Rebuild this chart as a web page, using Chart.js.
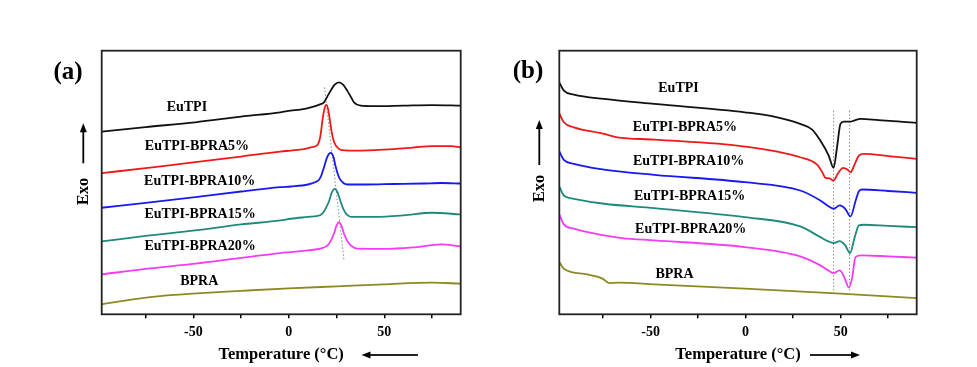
<!DOCTYPE html>
<html>
<head>
<meta charset="utf-8">
<title>DSC curves</title>
<script src="https://cdn.jsdelivr.net/npm/chart.js@4/dist/chart.umd.min.js"></script>
<style>
  body { margin: 0; background: #fff; }
  #wrap { position: relative; width: 977px; height: 367px; }
  .pane { position: absolute; top: 0; height: 367px; }
</style>
</head>
<body>
<div id="wrap">
  <div class="pane" style="left:0;width:488px"><canvas id="chartA"></canvas></div>
  <div class="pane" style="left:488px;width:489px"><canvas id="chartB"></canvas></div>
</div>
<script>
// temperature in °C, heat flow in arbitrary units (exo up, curves stacked)
var seriesNames = ["EuTPI", "EuTPI-BPRA5%", "EuTPI-BPRA10%", "EuTPI-BPRA15%", "EuTPI-BPRA20%", "BPRA"];
var tickValues = [-75, -50, -25, 0, 25, 50, 75];
var tickLabels = [-50, 0, 50];

// (a) cooling scan
var coolT_EuTPI = [-98, -75, -49, -25, -4.4, 1, 6, 12, 16, 18.4, 20, 21.9, 24, 26.2, 28.4, 30.6, 32.4, 34.1, 37.6, 45, 60, 75, 90];
var cool_EuTPI = [18.3, 18.75, 19.23, 19.8, 20.23, 20.4, 20.5, 20.75, 21.0, 21.23, 21.75, 22.4, 23.0, 23.23, 23.0, 22.4, 21.8, 21.23, 20.9, 20.85, 20.9, 20.95, 20.9];
var coolT_5 = [-98, -75, -49, -25, -4.4, 1, 8, 12, 14.9, 16, 16.8, 17.5, 18.5, 19.6, 20.6, 21.5, 22.5, 23.6, 25, 27.1, 32, 45, 55, 65, 75, 85, 90];
var cool_5 = [14.13, 14.65, 15.23, 15.8, 16.3, 16.4, 16.55, 16.75, 16.95, 17.4, 18.2, 19.3, 20.45, 20.97, 20.5, 19.45, 18.2, 17.3, 16.8, 16.47, 16.4, 16.45, 16.55, 16.7, 16.85, 16.85, 16.73];
var coolT_10 = [-98, -75, -49, -25, -4.4, 1, 10, 14, 15.7, 17, 18.4, 20.2, 21.9, 23.3, 24.5, 25.8, 27.1, 30.6, 40, 55, 70, 80, 90];
var cool_10 = [10.67, 11.15, 11.73, 12.3, 12.73, 12.8, 13.0, 13.25, 13.45, 13.9, 14.73, 15.8, 16.17, 15.8, 14.8, 13.95, 13.45, 13.0, 13.0, 13.05, 13.1, 13.15, 13.1];
var coolT_15 = [-98, -75, -49, -25, -4.4, 1, 10, 15, 17, 18.4, 21, 22.5, 24, 25.5, 27.1, 28.4, 29.7, 33, 45, 60, 75, 90];
var cool_15 = [7.3, 7.85, 8.4, 9.0, 9.4, 9.57, 9.75, 9.85, 10.0, 10.3, 11.3, 12.2, 12.57, 12.2, 11.3, 10.6, 10.15, 9.75, 9.75, 9.9, 10.17, 10.0];
var coolT_20 = [-98, -75, -49, -25, -4.4, 1, 10, 17, 20, 21.5, 23.6, 25, 26.2, 27.5, 28.9, 30.6, 32.4, 36, 50, 65, 80, 90];
var cool_20 = [4.0, 4.55, 5.07, 5.65, 6.13, 6.23, 6.4, 6.6, 6.85, 7.2, 8.07, 8.9, 9.23, 8.9, 8.07, 7.35, 6.9, 6.57, 6.55, 6.7, 7.0, 6.8];
var coolT_BPRA = [-98, -85, -72.6, -60, -46, -25, 0, 25, 50, 75, 90];
var cool_BPRA = [1.0, 1.4, 1.73, 1.95, 2.13, 2.35, 2.6, 2.8, 3.0, 3.17, 3.07];
var coolGuideT = [18.7, 28.9];
var coolGuide = [22.73, 5.4];

// (b) heating scan
var heatT_EuTPI = [-98, -95.6, -90.3, -74.4, -48, -0.4, 15, 28.7, 35, 39.3, 43.7, 46.3, 48.1, 49.9, 51.7, 55.2, 57, 60.5, 70, 80, 90];
var heat_EuTPI = [23.23, 22.4, 22.0, 21.57, 21.07, 20.23, 19.8, 19.07, 18.5, 17.4, 15.9, 14.67, 16.73, 19.07, 19.3, 19.3, 19.4, 19.57, 19.45, 19.33, 19.17];
var heatT_5 = [-98, -95.6, -90.3, -74.4, -67.5, -48, -0.4, 28.7, 37.6, 40.3, 42, 44, 46.3, 48.5, 51.3, 53.5, 55.2, 57.5, 59.6, 62.2, 75, 90];
var heat_5 = [20.13, 19.23, 18.73, 18.07, 17.73, 17.5, 16.8, 15.73, 15.0, 14.23, 13.67, 13.62, 13.4, 14.1, 14.67, 14.5, 14.23, 15.1, 15.9, 16.07, 15.85, 15.57];
var heatT_10 = [-98, -95.6, -90.3, -74.4, -48, -0.4, 28.7, 39.3, 43, 46.3, 49.5, 52.4, 55.2, 57.9, 59.6, 61.5, 75, 90];
var heat_10 = [16.3, 15.47, 15.07, 14.5, 13.97, 13.23, 12.4, 11.4, 10.9, 10.57, 10.9, 10.57, 9.8, 11.4, 12.33, 12.5, 12.35, 12.17];
var heatT_15 = [-98, -95.6, -90.3, -74.4, -48, -0.4, 28.7, 39.3, 43, 46.3, 49.5, 52.4, 54.9, 57.4, 59.6, 62.2, 75, 90];
var heat_15 = [12.8, 11.9, 11.57, 11.07, 10.63, 9.73, 8.8, 7.73, 7.35, 7.13, 7.33, 6.9, 6.13, 7.73, 8.9, 8.97, 8.85, 8.73];
var heatT_20 = [-98, -95.6, -90.3, -74.4, -65, -48, -0.4, 28.7, 39.3, 43, 46.3, 49.5, 51.9, 54.3, 56.1, 57.8, 61, 75, 90];
var heat_20 = [10.0, 9.0, 8.57, 7.9, 7.63, 7.4, 6.73, 5.8, 4.9, 4.45, 4.13, 4.4, 3.73, 2.67, 3.73, 5.73, 5.9, 5.8, 5.67];
var heatT_BPRA = [-98, -95.6, -83.3, -75.3, -71.8, -67, -48, -0.4, 50, 90];
var heat_BPRA = [5.23, 4.57, 4.0, 3.57, 3.13, 3.17, 3.0, 2.57, 2.07, 1.63];
var heatGuideT = [46.3, 54.7];
var heatGuideFrom = 20.4, heatGuideTo = 2.4;

var colors = ["#111111", "#f01818", "#1818f0", "#1f8a7a", "#f43cf4", "#8c8a22"];

Chart.defaults.font.family = "'Liberation Serif', 'Times New Roman', serif";
Chart.defaults.color = "#000";

function pts(xs, ys) {
  return xs.map(function(x, i) { return {x: x, y: ys[i]}; });
}

function curve(i, xs, ys) {
  return {
    data: pts(xs, ys),
    borderColor: colors[i],
    borderWidth: 1.8,
    pointRadius: 0,
    cubicInterpolationMode: 'monotone',
    fill: false
  };
}

function guide(xs, ys) {
  return {
    data: pts(xs, ys),
    borderColor: '#888',
    borderWidth: 1,
    borderDash: [1.5, 2],
    pointRadius: 0,
    tension: 0,
    fill: false
  };
}

function arrow(ctx, x1, y1, x2, y2) {
  var a = Math.atan2(y2 - y1, x2 - x1);
  ctx.beginPath();
  ctx.moveTo(x1, y1);
  ctx.lineTo(x2 - 6 * Math.cos(a), y2 - 6 * Math.sin(a));
  ctx.lineWidth = 1.8;
  ctx.stroke();
  ctx.beginPath();
  ctx.moveTo(x2, y2);
  ctx.lineTo(x2 - 9 * Math.cos(a) + 3.5 * Math.sin(a), y2 - 9 * Math.sin(a) - 3.5 * Math.cos(a));
  ctx.lineTo(x2 - 9 * Math.cos(a) - 3.5 * Math.sin(a), y2 - 9 * Math.sin(a) + 3.5 * Math.cos(a));
  ctx.closePath();
  ctx.fill();
}

// frame, panel letter, curve names, axis titles with arrows
var decor = {
  id: 'decor',
  afterDraw: function(chart, args, o) {
    var ctx = chart.ctx, ca = chart.chartArea;
    var sx = chart.scales.x, sy = chart.scales.y;
    ctx.save();
    ctx.strokeStyle = '#222';
    ctx.fillStyle = '#000';
    ctx.lineWidth = 1.8;
    ctx.strokeRect(ca.left, ca.top, ca.right - ca.left, ca.bottom - ca.top);

    ctx.textAlign = 'center';
    ctx.textBaseline = 'middle';
    ctx.font = 'bold 25px "Liberation Serif"';
    ctx.fillText(o.letter, o.letterX, o.letterY);

    ctx.font = 'bold 14px "Liberation Serif"';
    o.names.forEach(function(n, i) {
      ctx.fillText(seriesNames[i], sx.getPixelForValue(n[0]), sy.getPixelForValue(n[1]));
    });

    var cx = (ca.left + ca.right) / 2;
    ctx.font = 'bold 16.5px "Liberation Serif"';
    ctx.fillText('Temperature (°C)', cx, 355);
    arrow(ctx, cx + o.tArrow[0], 355, cx + o.tArrow[1], 355);

    ctx.save();
    ctx.translate(o.exoX, o.exoY);
    ctx.rotate(-Math.PI / 2);
    ctx.fillText('Exo', 0, 0);
    ctx.restore();
    ctx.strokeStyle = '#000';
    arrow(ctx, o.exoX, o.exoArrow[0], o.exoX, o.exoArrow[1]);
    ctx.restore();
  }
};

function makeChart(id, datasets, padRight, padLeft, deco) {
  return new Chart(document.getElementById(id), {
    type: 'line',
    data: { datasets: datasets },
    plugins: [decor],
    options: {
      responsive: true,
      maintainAspectRatio: false,
      animation: false,
      layout: { padding: { left: padLeft, right: padRight, top: 50.7, bottom: 0 } },
      plugins: { legend: { display: false }, tooltip: { enabled: false }, decor: deco },
      scales: {
        x: {
          type: 'linear',
          min: -98,
          max: 90,
          afterBuildTicks: function(s) { s.ticks = tickValues.map(function(v) { return {value: v}; }); },
          afterFit: function(s) { s.height = 52.7; },
          border: { display: false },
          grid: { drawOnChartArea: false, drawTicks: true, tickLength: 4, color: '#000', lineWidth: 1.5 },
          ticks: {
            autoSkip: false,
            maxRotation: 0,
            padding: 6,
            font: { size: 14, weight: 'bold' },
            callback: function(v) { return tickLabels.indexOf(v) >= 0 ? String(v) : ''; }
          }
        },
        y: { display: false, min: 0, max: 26.4 }
      }
    }
  });
}

makeChart('chartA', [
  curve(0, coolT_EuTPI, cool_EuTPI),
  curve(1, coolT_5, cool_5),
  curve(2, coolT_10, cool_10),
  curve(3, coolT_15, cool_15),
  curve(4, coolT_20, cool_20),
  curve(5, coolT_BPRA, cool_BPRA),
  guide(coolGuideT, coolGuide)
], 27.3, 101.7, {
  letter: '(a)', letterX: 68, letterY: 73,
  names: [[-53.4, 20.7], [-48.1, 16.77], [-46.7, 13.35], [-46.5, 10.03], [-46.5, 6.82], [-46.9, 3.26]],
  tArrow: [136.7, 80.3],
  exoX: 83.3, exoY: 191.5, exoArrow: [163.3, 123.3]
});

makeChart('chartB', [
  curve(0, heatT_EuTPI, heat_EuTPI),
  curve(1, heatT_5, heat_5),
  curve(2, heatT_10, heat_10),
  curve(3, heatT_15, heat_15),
  curve(4, heatT_20, heat_20),
  curve(5, heatT_BPRA, heat_BPRA),
  guide([heatGuideT[0], heatGuideT[0]], [heatGuideFrom, heatGuideTo]),
  guide([heatGuideT[1], heatGuideT[1]], [heatGuideFrom, heatGuideTo])
], 60.3, 71.3, {
  letter: '(b)', letterX: 40, letterY: 71.7,
  names: [[-35.3, 22.6], [-31.9, 18.67], [-30, 15.3], [-29.5, 11.8], [-28.9, 8.5], [-37.4, 4.0]],
  tArrow: [72, 122],
  exoX: 51.3, exoY: 188.5, exoArrow: [165, 120]
});
</script>
</body>
</html>
